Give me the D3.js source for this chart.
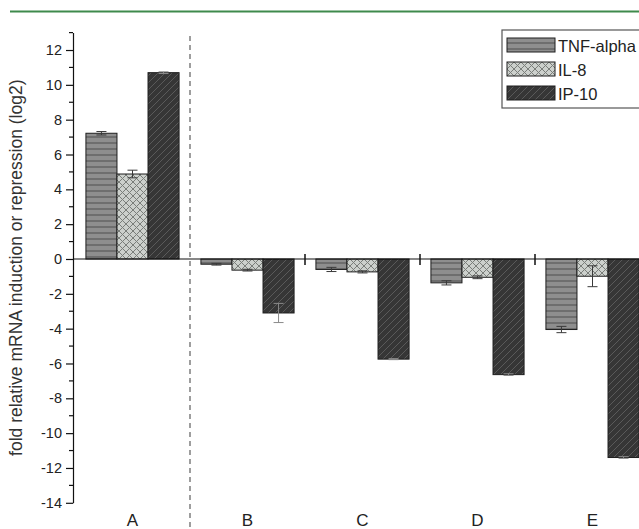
<!DOCTYPE html>
<html>
<head>
<meta charset="utf-8">
<script src="https://cdn.jsdelivr.net/npm/d3@7/dist/d3.min.js"></script>
<style>
  html, body { margin: 0; padding: 0; background: #fff; }
  svg { display: block; font-family: "Liberation Sans", Arial, sans-serif; }
</style>
</head>
<body>
<svg id="chart" width="639" height="529"></svg>
<script>
// Fold change (log2) of mRNA for three cytokines across five conditions
const categories = ["A", "B", "C", "D", "E"];
const seriesNames = ["TNF-alpha", "IL-8", "IP-10"];
const tnfAlpha = [7.22, -0.3, -0.6, -1.37, -4.05];
const il8 = [4.88, -0.64, -0.74, -1.05, -0.99];
const ip10 = [10.7, -3.1, -5.75, -6.64, -11.4];
const tnfAlphaErr = [0.1, 0.05, 0.12, 0.12, 0.18];
const il8Err = [0.22, 0.05, 0.06, 0.08, 0.6];
const ip10Err = [0.05, 0.55, 0.03, 0.05, 0.05];
const yTickValues = [-14, -12, -10, -8, -6, -4, -2, 0, 2, 4, 6, 8, 10, 12];
const yMinorTicks = [-13, -11, -9, -7, -5, -3, -1, 1, 3, 5, 7, 9, 11, 13];

const values = [tnfAlpha, il8, ip10];
const errors = [tnfAlphaErr, il8Err, ip10Err];
const rows = [];
categories.forEach((c, i) => {
  seriesNames.forEach((s, j) => {
    rows.push({ category: c, series: s, value: values[j][i], err: errors[j][i] });
  });
});

const svg = d3.select("#chart");
const axisX = 73;

// Fill patterns for each series
const defs = svg.append("defs");
const pTnf = defs.append("pattern").attr("id", "pat-tnf")
  .attr("patternUnits", "userSpaceOnUse").attr("width", 8).attr("height", 6);
pTnf.append("rect").attr("width", 8).attr("height", 6).attr("fill", "#8e8e8e");
pTnf.append("line").attr("x1", 0).attr("x2", 8).attr("y1", 5).attr("y2", 5)
  .attr("stroke", "#5c5c5c").attr("stroke-width", 1.3);

const pIl8 = defs.append("pattern").attr("id", "pat-il8")
  .attr("patternUnits", "userSpaceOnUse").attr("width", 7).attr("height", 7);
pIl8.append("rect").attr("width", 7).attr("height", 7).attr("fill", "#ccd0cc");
pIl8.append("path").attr("d", "M0,0 L7,7 M7,0 L0,7")
  .attr("stroke", "#7a7e7a").attr("stroke-width", 1);

const pIp10 = defs.append("pattern").attr("id", "pat-ip10")
  .attr("patternUnits", "userSpaceOnUse").attr("width", 7).attr("height", 7);
pIp10.append("rect").attr("width", 7).attr("height", 7).attr("fill", "#363636");
pIp10.append("path").attr("d", "M-1,8 L8,-1 M-1,1 L1,-1 M6,8 L8,6")
  .attr("stroke", "#5a5a5a").attr("stroke-width", 1);

const fills = { "TNF-alpha": "url(#pat-tnf)", "IL-8": "url(#pat-il8)", "IP-10": "url(#pat-ip10)" };
const errColor = { "TNF-alpha": "#3a3a3a", "IL-8": "#3a3a3a", "IP-10": "#8a8a8a" };

// Scales
const x = d3.scaleBand().domain(categories).range([75, 650])
  .paddingInner(0.19).paddingOuter(0.095);
const xs = d3.scaleBand().domain(seriesNames).range([0, x.bandwidth()]).padding(0);
const y = d3.scaleLinear().domain([-14, 13]).range([502.8, 32.6]);

// Top rule
svg.append("line").attr("x1", 10).attr("x2", 639).attr("y1", 11.5).attr("y2", 11.5)
  .attr("stroke", "#3f8a4c").attr("stroke-width", 2.2);

// Dashed divider between A and the others
const sepX = (c) => x(c) - (x.step() - x.bandwidth()) / 2;
svg.append("line").attr("x1", sepX("B")).attr("x2", sepX("B"))
  .attr("y1", 36).attr("y2", 529)
  .attr("stroke", "#6a6a6a").attr("stroke-width", 1.3).attr("stroke-dasharray", "5,4");

// Bars
const g = svg.append("g");
g.selectAll("rect.bar").data(rows).join("rect")
  .attr("class", "bar")
  .attr("x", d => x(d.category) + xs(d.series))
  .attr("width", xs.bandwidth())
  .attr("y", d => y(Math.max(0, d.value)))
  .attr("height", d => Math.abs(y(d.value) - y(0)))
  .attr("fill", d => fills[d.series])
  .attr("stroke", "#1e1e1e").attr("stroke-width", 1);

// Error bars
const capW = 5;
const cx = d => x(d.category) + xs(d.series) + xs.bandwidth() / 2;
const eb = g.selectAll("g.err").data(rows).join("g").attr("class", "err")
  .attr("stroke", d => errColor[d.series]).attr("stroke-width", 1);
eb.append("line")
  .attr("x1", cx).attr("x2", cx)
  .attr("y1", d => y(d.value + d.err)).attr("y2", d => y(d.value - d.err));
eb.append("line")
  .attr("x1", d => cx(d) - capW).attr("x2", d => cx(d) + capW)
  .attr("y1", d => y(d.value + d.err)).attr("y2", d => y(d.value + d.err));
eb.append("line")
  .attr("x1", d => cx(d) - capW).attr("x2", d => cx(d) + capW)
  .attr("y1", d => y(d.value - d.err)).attr("y2", d => y(d.value - d.err));

// Zero line with group separators
svg.append("line").attr("x1", axisX).attr("x2", 639).attr("y1", y(0)).attr("y2", y(0))
  .attr("stroke", "#111").attr("stroke-width", 1.2);
svg.selectAll("line.sep").data(categories.slice(2)).join("line")
  .attr("class", "sep")
  .attr("x1", d => sepX(d)).attr("x2", d => sepX(d))
  .attr("y1", y(0) - 5).attr("y2", y(0) + 6)
  .attr("stroke", "#111").attr("stroke-width", 1.5);

// Y axis
const yAxis = svg.append("g").attr("transform", `translate(${axisX},0)`)
  .call(d3.axisLeft(y).tickValues(yTickValues).tickFormat(d => String(d))
    .tickSize(7).tickSizeOuter(0).tickPadding(4));
yAxis.select(".domain").attr("stroke", "#111").attr("stroke-width", 1.2);
yAxis.selectAll(".tick line").attr("stroke", "#111").attr("stroke-width", 1.2);
yAxis.selectAll(".tick text").attr("font-size", 14.5).attr("fill", "#222")
  .attr("font-family", "Liberation Sans, Arial, sans-serif");
yAxis.selectAll("line.minor").data(yMinorTicks).join("line")
  .attr("class", "minor")
  .attr("x1", -4).attr("x2", 0).attr("y1", d => y(d)).attr("y2", d => y(d))
  .attr("stroke", "#111").attr("stroke-width", 1.2);

// Y axis title
svg.append("text")
  .attr("transform", `translate(22,${(y(13) + y(-14)) / 2}) rotate(-90)`)
  .attr("text-anchor", "middle").attr("font-size", 17.5).attr("fill", "#333")
  .text("fold relative mRNA induction or repression (log2)");

// Category labels
svg.selectAll("text.cat").data(categories).join("text")
  .attr("class", "cat")
  .attr("x", d => x(d) + x.bandwidth() / 2).attr("y", 526)
  .attr("text-anchor", "middle").attr("font-size", 17).attr("fill", "#222")
  .text(d => d);

// Legend
const lg = svg.append("g").attr("transform", "translate(502,30)");
lg.append("rect").attr("width", 160).attr("height", 78)
  .attr("fill", "#fff").attr("stroke", "#555").attr("stroke-width", 1.2);
const items = lg.selectAll("g.item").data(seriesNames).join("g")
  .attr("class", "item")
  .attr("transform", (d, i) => `translate(5,${8 + i * 24})`);
items.append("rect").attr("width", 48).attr("height", 14)
  .attr("fill", d => fills[d]).attr("stroke", "#1e1e1e").attr("stroke-width", 1);
items.append("text").attr("x", 51).attr("y", 13.5)
  .attr("font-size", 16.5).attr("fill", "#222").text(d => d);
</script>
</body>
</html>
